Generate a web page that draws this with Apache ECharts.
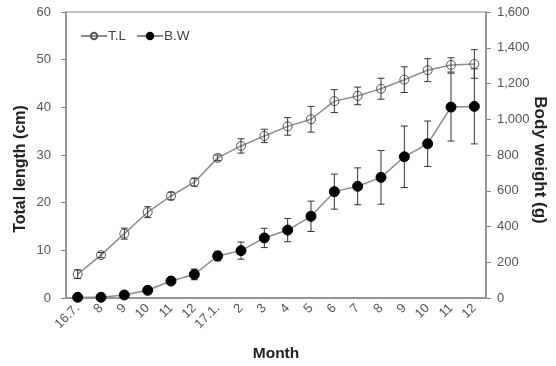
<!DOCTYPE html>
<html>
<head>
<meta charset="utf-8">
<script src="https://cdn.jsdelivr.net/npm/echarts@6/dist/echarts.min.js"></script>
<style>
  html, body { margin: 0; padding: 0; background: #fff; }
  #chart { width: 556px; height: 366px; }
</style>
</head>
<body>
<div id="chart"></div>
<script>
const months = ['16.7.', '8', '9', '10', '11', '12', '17.1.', '2', '3', '4', '5', '6', '7', '8', '9', '10', '11', '12']
const tlMean = [5.0, 9.0, 13.5, 18.0, 21.4, 24.3, 29.4, 31.9, 34.0, 36.0, 37.5, 41.3, 42.4, 43.9, 45.8, 47.8, 48.9, 49.1]
const tlSd = [0.9, 0.55, 1.15, 1.15, 0.8, 0.8, 0.6, 1.5, 1.4, 1.85, 2.7, 2.4, 1.85, 2.2, 2.7, 2.4, 1.5, 3.0]
const bwMean = [4, 4, 17, 43, 95, 132, 235, 265, 336, 380, 457, 595, 625, 675, 790, 863, 1068, 1072]
const bwSd = [4, 4, 8, 8, 10, 30, 27, 48, 54, 65, 85, 98, 103, 150, 172, 127, 190, 210]

const axisGray = '#868686'
const textGray = '#555'
const font = 'Liberation Sans, Arial, sans-serif'

const errorBars = (mean, sd, yAxisIndex, z) => ({
    type: 'custom',
    yAxisIndex,
    z,
    silent: true,
    data: mean.map((m, i) => [i, m - sd[i], m + sd[i]]),
    renderItem: (params, api) => {
        const lo = api.coord([api.value(0), api.value(1)])
        const hi = api.coord([api.value(0), api.value(2)])
        const cap = 3.5
        const style = { stroke: '#333', lineWidth: 1 }
        return {
            type: 'group',
            children: [
                { type: 'line', shape: { x1: lo[0], y1: lo[1], x2: hi[0], y2: hi[1] }, style },
                { type: 'line', shape: { x1: lo[0] - cap, y1: lo[1], x2: lo[0] + cap, y2: lo[1] }, style },
                { type: 'line', shape: { x1: hi[0] - cap, y1: hi[1], x2: hi[0] + cap, y2: hi[1] }, style },
            ],
        }
    },
})

// rotated axis titles, placed by hand
const axisTitle = (text, x, y, rotation, size) => ({
    type: 'text',
    x,
    y,
    rotation,
    style: {
        text,
        font: `bold ${size}px Liberation Sans, Arial, sans-serif`,
        fill: '#222',
        align: 'center',
        verticalAlign: 'middle',
    },
})

const chart = echarts.init(document.getElementById('chart'), null, { renderer: 'canvas' })
chart.setOption({
    animation: false,
    textStyle: { fontFamily: font },
    grid: {
        left: 66, right: 70, top: 12, bottom: 68,
        outerBoundsMode: 'none', containLabel: false,
        show: true, borderColor: axisGray, borderWidth: 1,
    },
    legend: {
        left: 75,
        top: 24,
        itemWidth: 26,
        itemHeight: 8,
        itemGap: 10,
        textStyle: { color: '#404040', fontSize: 13.5, fontFamily: font, padding: [0, 0, 0, -4] },
        data: ['T.L', 'B.W'],
    },
    graphic: [
        axisTitle('Total length (cm)', 21, 169, Math.PI / 2, 16),
        axisTitle('Body weight (g)', 540, 160, -Math.PI / 2, 17),
    ],
    xAxis: {
        type: 'category',
        data: months,
        boundaryGap: true,
        name: 'Month',
        nameLocation: 'middle',
        nameGap: 48,
        nameTextStyle: { fontSize: 15.5, fontWeight: 'bold', color: '#222' },
        axisLine: { lineStyle: { color: axisGray, width: 1.5 } },
        axisTick: { interval: 0, length: 5, lineStyle: { color: axisGray } },
        axisLabel: { interval: 0, rotate: 45, color: textGray, fontSize: 13, margin: 8 },
        splitLine: { show: false },
    },
    yAxis: [
        {
            type: 'value',
            min: 0,
            max: 60,
            interval: 10,
            axisLine: { show: true, lineStyle: { color: axisGray, width: 1.5 } },
            axisTick: { show: true, length: 5, lineStyle: { color: axisGray } },
            axisLabel: { color: textGray, fontSize: 13, margin: 15 },
            splitLine: { show: false },
        },
        {
            type: 'value',
            min: 0,
            max: 1600,
            interval: 200,
            position: 'right',
            axisLine: { show: true, lineStyle: { color: axisGray, width: 1.5 } },
            axisTick: { show: true, length: 5, lineStyle: { color: axisGray } },
            axisLabel: { color: textGray, fontSize: 13, margin: 11, formatter: (v) => v.toLocaleString('en-US') },
            splitLine: { show: false },
        },
    ],
    series: [
        {
            name: 'T.L',
            type: 'line',
            yAxisIndex: 0,
            data: tlMean,
            symbol: 'circle',
            symbolSize: 9,
            z: 3,
            lineStyle: { color: '#8c8c8c', width: 1.5 },
            itemStyle: { color: 'rgba(255,255,255,0)', borderColor: '#555', borderWidth: 1 },
        },
        errorBars(tlMean, tlSd, 0, 4),
        errorBars(bwMean, bwSd, 1, 2),
        {
            name: 'B.W',
            type: 'line',
            yAxisIndex: 1,
            data: bwMean,
            symbol: 'circle',
            symbolSize: 10,
            z: 5,
            lineStyle: { color: '#8c8c8c', width: 1.5 },
            itemStyle: { color: '#000', borderColor: '#000', borderWidth: 1 },
        },
    ],
})
</script>
</body>
</html>
